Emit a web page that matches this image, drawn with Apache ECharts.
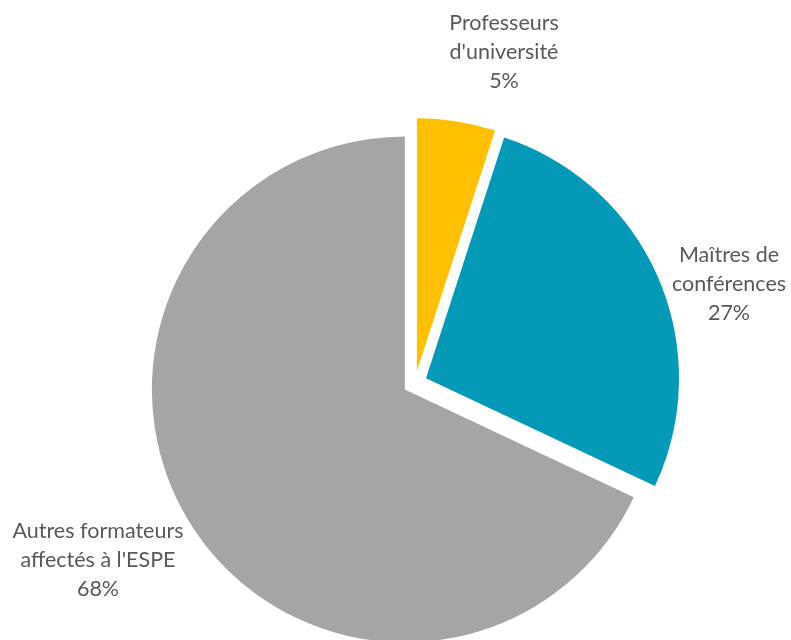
<!DOCTYPE html>
<html>
<head>
<meta charset="utf-8">
<script src="https://cdn.jsdelivr.net/npm/echarts@6/dist/echarts.min.js"></script>
<style>
  html, body { margin: 0; padding: 0; background: #fff; }
  #chart { width: 791px; height: 640px; }
</style>
</head>
<body>
<div id="chart"></div>
<script>
// données du graphique
var categories = ["Professeurs\nd'université", "Maîtres de\nconférences", "Autres formateurs\naffectés à l'ESPE"];
var values = [5, 27, 68];
var colors = ['#FFC000', '#0499B7', '#A5A5A5'];

// position des étiquettes (centre du bloc de texte)
var labelPos = [[504, 52], [729, 284], [98, 560]];

var chart = echarts.init(document.getElementById('chart'));
var pieData = [];
var labelData = [];
for (var i = 0; i < categories.length; i++) {
    pieData.push({
        name: categories[i],
        value: values[i],
        selected: true,
        itemStyle: { color: colors[i] }
    });
    labelData.push({ name: categories[i], value: values[i] });
}

var option = {
    animation: false,
    series: [{
        // secteurs éclatés
        type: 'pie',
        center: [415, 383],
        radius: 253,
        startAngle: 90,
        clockwise: true,
        selectedMode: 'multiple',
        selectedOffset: 12,
        emphasis: { disabled: true },
        silent: true,
        label: { show: false },
        labelLine: { show: false },
        data: pieData
    }, {
        // étiquettes (secteurs transparents)
        type: 'pie',
        center: [415, 383],
        radius: 253,
        startAngle: 90,
        clockwise: true,
        silent: true,
        emphasis: { disabled: true },
        itemStyle: { color: 'rgba(0,0,0,0)' },
        data: labelData,
        label: {
            show: true,
            position: 'outside',
            alignTo: 'none',
            overflow: 'none',
            formatter: function (p) {
                return p.name + '\n' + p.value + '%';
            },
            fontFamily: 'Lato',
            fontSize: 21.5,
            lineHeight: 29,
            color: '#595959',
            align: 'center',
            verticalAlign: 'middle'
        },
        labelLine: { show: false },
        labelLayout: function (params) {
            var p = labelPos[params.dataIndex];
            return { x: p[0], y: p[1], align: 'center', verticalAlign: 'middle' };
        }
    }]
};
chart.setOption(option);
</script>
</body>
</html>
